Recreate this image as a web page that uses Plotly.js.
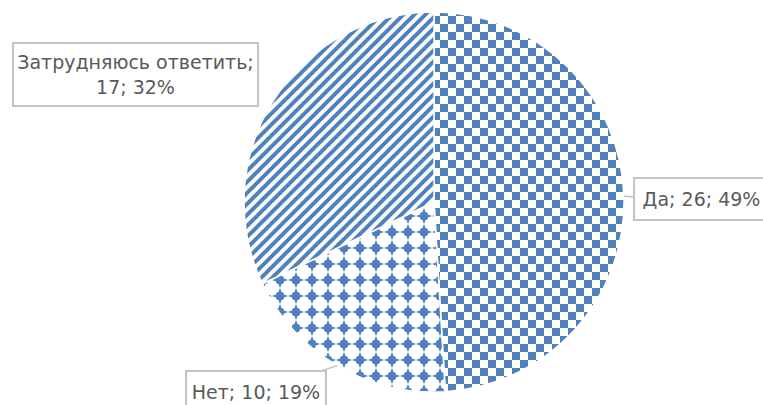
<!DOCTYPE html>
<html>
<head>
<meta charset="utf-8">
<script src="https://cdn.plot.ly/plotly-3.0.1.min.js"></script>
<style>
  html, body { margin: 0; padding: 0; background: #ffffff; }
  #chart { width: 763px; height: 405px; }
</style>
</head>
<body>
<div id="chart"></div>
<script>
// ---- data ----
const categories = ['Да', 'Нет', 'Затрудняюсь ответить'];
const counts = [26, 10, 17];
const patternShapes = ['+', '.', '/'];

// ---- geometry / style ----
const W = 763, H = 405;
const CX = 434, CY = 202, R = 190;
const BLUE = '#4F81BD';
const TEXT = '#595959';
const BORDER = '#c3c3c3';
const FONT = 'DejaVu Sans';

const total = counts.reduce((a, b) => a + b, 0);
const pct = counts.map(v => Math.round(v / total * 100));

// midpoint of each slice (clockwise from 12 o'clock) in pixels on the rim
let cum = 0;
const tips = counts.map(v => {
  const mid = (cum + v / 2) / total * 2 * Math.PI;
  cum += v;
  return [CX + R * Math.sin(mid), CY - R * Math.cos(mid)];
});

const px = x => x / W;
const py = y => 1 - y / H;

const pieTrace = {
  type: 'pie',
  labels: categories,
  values: counts,
  sort: false,
  direction: 'clockwise',
  rotation: 0,
  textinfo: 'none',
  hoverinfo: 'none',
  showlegend: false,
  domain: { x: [px(CX - R), px(CX + R)], y: [py(CY + R), py(CY - R)] },
  marker: {
    colors: ['#ffffff', '#ffffff', '#ffffff'],
    line: { color: '#ffffff', width: 1.5 },
    pattern: {
      shape: patternShapes,
      fgcolor: BLUE,
      bgcolor: '#ffffff',
      fillmode: 'replace',
      size: [16, 16, 11],
      solidity: [0.5, 0.3, 0.5]
    }
  }
};

const lbl = i => categories[i] + '; ' + counts[i] + '; ' + pct[i] + '%';
const lblBreak = i => categories[i] + ';<br>' + counts[i] + '; ' + pct[i] + '%';

const annFont = { family: FONT, size: 19, color: TEXT };
const common = {
  xref: 'paper', yref: 'paper',
  font: annFont, bgcolor: '#ffffff',
  bordercolor: BORDER, borderwidth: 2, borderpad: 0,
  align: 'center', xanchor: 'center', yanchor: 'middle'
};

// label boxes: centre (pixel) and size
const boxDa = { cx: 701.5, cy: 199, w: 137, h: 44 };
const boxNet = { cx: 256, cy: 392, w: 142, h: 44 };
const boxZ = { cx: 135.5, cy: 74.5, w: 247, h: 65 };

const annotations = [
  Object.assign({}, common, {
    text: lbl(0),
    x: px(tips[0][0]), y: py(tips[0][1]),
    showarrow: true, arrowhead: 0, arrowwidth: 1.5, arrowcolor: BORDER,
    ax: boxDa.cx - tips[0][0], ay: boxDa.cy - tips[0][1],
    width: boxDa.w - 4, height: boxDa.h - 4
  }),
  Object.assign({}, common, {
    text: lbl(1),
    x: px(tips[1][0]), y: py(tips[1][1]),
    showarrow: true, arrowhead: 0, arrowwidth: 1.5, arrowcolor: BORDER,
    ax: boxNet.cx - tips[1][0], ay: boxNet.cy - tips[1][1],
    width: boxNet.w - 4, height: boxNet.h - 4
  }),
  Object.assign({}, common, {
    text: lblBreak(2),
    x: px(boxZ.cx), y: py(boxZ.cy),
    showarrow: false,
    width: boxZ.w - 4, height: boxZ.h - 4
  })
];

const layout = {
  width: W, height: H,
  margin: { l: 0, r: 0, t: 0, b: 0 },
  paper_bgcolor: '#ffffff',
  plot_bgcolor: '#ffffff',
  showlegend: false,
  annotations: annotations,
  font: { family: FONT, color: TEXT }
};

const gd = document.getElementById('chart');

// Excel-like hatch fills (checkerboard, large dots, diagonal stripes)
function applyPatterns() {
  const svg = gd.querySelector('svg.main-svg');
  if (!svg) return;
  const ns = 'http://www.w3.org/2000/svg';
  let defs = svg.querySelector('defs');
  if (!defs) { defs = document.createElementNS(ns, 'defs'); svg.insertBefore(defs, svg.firstChild); }
  const el = (tag, attrs, parent) => {
    const e = document.createElementNS(ns, tag);
    Object.keys(attrs).forEach(k => e.setAttribute(k, attrs[k]));
    parent.appendChild(e);
    return e;
  };
  const newPat = (id, s) => el('pattern', { id: id, patternUnits: 'userSpaceOnUse', width: s, height: s }, defs);

  if (!document.getElementById('patChecker')) {
    const p1 = newPat('patChecker', 16);
    el('rect', { x: 0, y: 0, width: 16, height: 16, fill: '#ffffff' }, p1);
    el('rect', { x: 0, y: 0, width: 8, height: 8, fill: BLUE }, p1);
    el('rect', { x: 8, y: 8, width: 8, height: 8, fill: BLUE }, p1);

    const p2 = newPat('patDots', 16);
    el('rect', { x: 0, y: 0, width: 16, height: 16, fill: '#ffffff' }, p2);
    el('rect', { x: 0, y: 7.5, width: 16, height: 1, fill: '#c9d7ec' }, p2);
    el('rect', { x: 7.5, y: 0, width: 1, height: 16, fill: '#c9d7ec' }, p2);
    el('rect', { x: 1.5, y: 7, width: 13, height: 2, fill: BLUE }, p2);
    el('rect', { x: 7, y: 1.5, width: 2, height: 13, fill: BLUE }, p2);
    el('circle', { cx: 8, cy: 8, r: 4.5, fill: BLUE }, p2);

    const s = 11;
    const p3 = newPat('patStripes', s);
    el('rect', { x: 0, y: 0, width: s, height: s, fill: '#ffffff' }, p3);
    el('path', {
      d: 'M' + (-s / 2) + ',' + (s / 2) + 'L' + (s / 2) + ',' + (-s / 2) +
         'M0,' + s + 'L' + s + ',0' +
         'M' + (s / 2) + ',' + (s * 1.5) + 'L' + (s * 1.5) + ',' + (s / 2),
      stroke: BLUE, 'stroke-width': 4.0, fill: 'none'
    }, p3);
  }
  const ids = ['patChecker', 'patDots', 'patStripes'];
  const slices = gd.querySelectorAll('g.slice path.surface');
  slices.forEach((sl, i) => {
    if (ids[i]) sl.style.fill = 'url(#' + ids[i] + ')';
  });
}

Plotly.newPlot(gd, [pieTrace], layout, { staticPlot: true, displayModeBar: false })
  .then(applyPatterns);
gd.on && gd.on('plotly_afterplot', applyPatterns);
</script>
</body>
</html>
